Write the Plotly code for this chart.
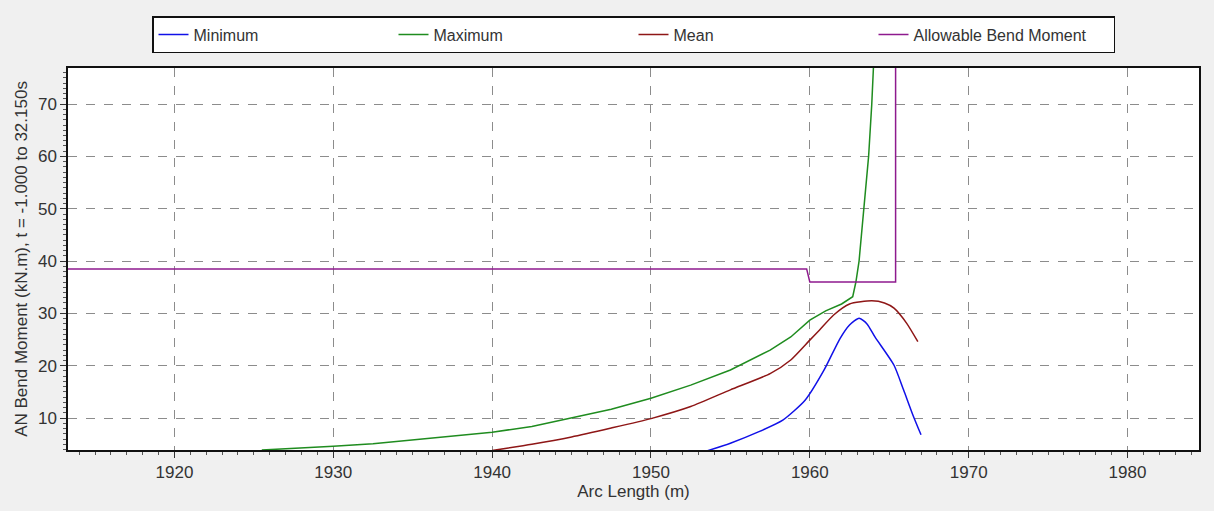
import plotly.graph_objects as go

# Arc length (m) and bend moment (kN.m) envelopes
min_x = [1953.5, 1955.0, 1956.8, 1958.3, 1959.7, 1960.9, 1961.9, 1962.5, 1963.1,
         1963.6, 1964.1, 1965.3, 1965.9, 1966.5, 1967.0]
min_y = [3.7, 5.2, 7.4, 9.6, 13.4, 19.2, 25.2, 27.8, 29.1,
         28.0, 25.5, 20.1, 15.4, 10.5, 6.8]

max_x = [1925.5, 1927.5, 1930.0, 1932.5, 1935.0, 1937.5, 1940.0, 1942.5, 1945.0,
         1947.5, 1950.0, 1952.5, 1955.0, 1957.5, 1958.8, 1960.0, 1961.0, 1962.0,
         1962.7, 1962.9, 1963.1, 1963.4, 1963.7, 1963.9, 1964.0, 1964.2]
max_y = [3.9, 4.2, 4.6, 5.1, 5.8, 6.5, 7.3, 8.4, 10.0,
         11.7, 13.8, 16.3, 19.2, 23.0, 25.5, 28.7, 30.5, 31.8,
         33.2, 36.0, 40.0, 50.0, 60.0, 70.0, 77.0, 90.0]

mean_x = [1940.0, 1942.5, 1945.0, 1947.5, 1950.0, 1952.5, 1955.0, 1957.5, 1958.8,
          1960.0, 1960.6, 1961.5, 1962.5, 1963.9, 1964.7, 1965.3, 1966.1, 1966.8]
mean_y = [3.8, 5.0, 6.4, 8.1, 9.9, 12.2, 15.4, 18.5, 21.1,
          24.9, 26.8, 29.7, 31.8, 32.4, 32.0, 31.0, 28.1, 24.6]

allow_x = [1910.0, 1959.8, 1960.0, 1965.4, 1965.4]
allow_y = [38.5, 38.5, 36.0, 36.0, 90.0]

x_ticks = [1920, 1930, 1940, 1950, 1960, 1970, 1980]
y_ticks = [10, 20, 30, 40, 50, 60, 70]

# name, x, y, colour, line shape
series = [
    ("Minimum", min_x, min_y, "#1010e8", "spline"),
    ("Maximum", max_x, max_y, "#1f8c1f", "linear"),
    ("Mean", mean_x, mean_y, "#8e1616", "spline"),
    ("Allowable Bend Moment", allow_x, allow_y, "#8e1a8e", "linear"),
]

fig = go.Figure()
for name, xs, ys, color, shape in series:
    line = dict(color=color, width=1.5, shape=shape)
    if shape == "spline":
        line["smoothing"] = 0.6
    fig.add_trace(go.Scatter(x=xs, y=ys, mode="lines", name=name, line=line))

FAMILY = "Liberation Sans, Arial, sans-serif"
font = dict(family=FAMILY, size=17, color="#333333")

axis_common = dict(
    showline=True, linecolor="#111111", linewidth=1.5, mirror=True,
    showgrid=True, gridcolor="#8c8c8c", griddash="dash", gridwidth=1,
    ticks="outside", ticklen=6, tickcolor="#333333",
    zeroline=False, tickfont=font,
)

fig.update_layout(
    width=1214, height=511,
    paper_bgcolor="#f0f0f0", plot_bgcolor="#ffffff",
    margin=dict(l=68, r=15, t=68, b=61, autoexpand=False),
    font=font,
    showlegend=True,
    legend=dict(
        orientation="h", xref="container", yref="container",
        x=152 / 1214, xanchor="left", y=1 - 16 / 511, yanchor="top",
        bgcolor="#ffffff", bordercolor="#111111", borderwidth=1.5,
        entrywidth=195, entrywidthmode="pixels",
        font=dict(family=FAMILY, size=16, color="#333333"),
        itemclick=False, itemdoubleclick=False,
    ),
    xaxis=dict(axis_common, range=[1913.3, 1984.5], tickvals=x_ticks,
               minor=dict(ticks="outside", ticklen=3, tickcolor="#555555", dtick=1),
               title=dict(text="Arc Length (m)", font=font, standoff=4)),
    yaxis=dict(axis_common, range=[3.9, 76.9], tickvals=y_ticks,
               minor=dict(ticks="outside", ticklen=3, tickcolor="#555555", dtick=1),
               title=dict(text="AN Bend Moment (kN.m), t = -1.000 to 32.150s",
                          font=font, standoff=6)),
)

fig.write_html("out.html")
